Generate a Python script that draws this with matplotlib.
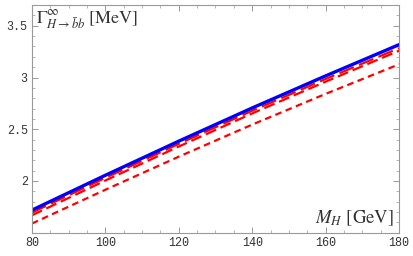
import numpy as np
import matplotlib
matplotlib.use("Agg")
import matplotlib.pyplot as plt
from matplotlib.ticker import MultipleLocator

# Higgs mass (GeV) and widths (MeV)
mh = [80, 100, 120, 140, 160, 180]
gamma_blue = [1.718, 2.055, 2.385, 2.706, 3.016, 3.318]
gamma_dash_long = [1.694, 2.030, 2.359, 2.679, 2.986, 3.284]
gamma_dash_med = [1.668, 2.004, 2.333, 2.653, 2.960, 3.259]
gamma_dotted = [1.588, 1.915, 2.235, 2.545, 2.842, 3.128]

plt.rcParams["mathtext.fontset"] = "stix"

fig = plt.figure(figsize=(4.14, 2.56), dpi=100)
ax = fig.add_axes([0.077, 0.091, 0.887, 0.889])

ax.plot(mh, gamma_dotted, color="red", lw=1.6, dashes=(3.0, 2.0))
ax.plot(mh, gamma_dash_med, color="red", lw=1.6, dashes=(5.0, 2.2))
ax.plot(mh, gamma_dash_long, color="red", lw=1.6, dashes=(7.0, 2.5))
ax.plot(mh, gamma_blue, color="blue", lw=2.4)

ax.set_xlim(80, 180)
ax.set_ylim(1.5, 3.7)
ax.xaxis.set_major_locator(MultipleLocator(20))
ax.xaxis.set_minor_locator(MultipleLocator(5))
ax.yaxis.set_minor_locator(MultipleLocator(0.1))
ax.set_yticks([2, 2.5, 3, 3.5])
ax.set_yticklabels(["2", "2.5", "3", "3.5"])

grey = "#999999"
for s in ax.spines.values():
    s.set_color(grey)
    s.set_linewidth(0.8)
ax.tick_params(which="both", direction="in", top=True, right=True, color=grey)
ax.tick_params(which="major", length=4, width=0.7, labelsize=8.5, pad=3)
ax.tick_params(which="minor", length=2, width=0.5)
for lab in ax.get_xticklabels() + ax.get_yticklabels():
    lab.set_family("Liberation Mono")
    lab.set_color("#333333")

ax.text(0.012, 0.99, r"$\Gamma^{\infty}_{H\to\bar{b}b}\ [\mathrm{MeV}]$",
        transform=ax.transAxes, ha="left", va="top", fontsize=13, color="#333333")
ax.text(0.985, 0.02, r"$M_H\ [\mathrm{GeV}]$",
        transform=ax.transAxes, ha="right", va="bottom", fontsize=13.5, color="#333333")

fig.savefig("out.png", dpi=100)
